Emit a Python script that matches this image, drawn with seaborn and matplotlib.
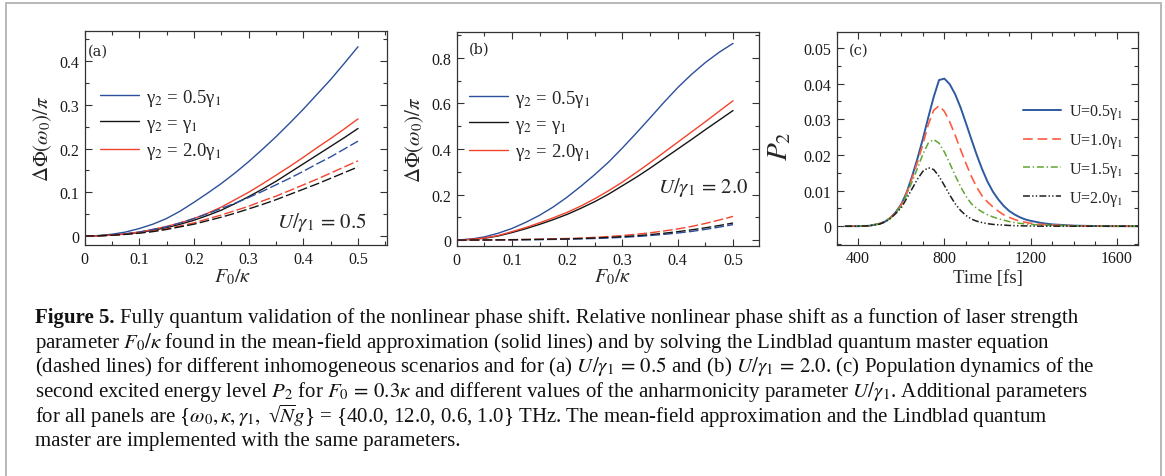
import numpy as np
import pandas as pd
import matplotlib
matplotlib.use("Agg")
import matplotlib.pyplot as plt
import seaborn as sns
from matplotlib.lines import Line2D
from matplotlib.ticker import MultipleLocator, FuncFormatter

# ---------------- data ----------------
F = [0.0, 0.025, 0.05, 0.075, 0.1, 0.125, 0.15, 0.175, 0.2, 0.225, 0.25,
     0.275, 0.3, 0.325, 0.35, 0.375, 0.4, 0.425, 0.45, 0.475, 0.5]

# panel (a)  U/gamma1 = 0.5
a_blue_mf = [0, .001, .004, .009, .017, .027, .040, .057, .077, .098, .120,
             .144, .170, .198, .227, .258, .290, .324, .358, .395, .433]
a_black_mf = [0, .0005, .002, .0045, .008, .013, .019, .027, .036, .047, .059,
              .074, .090, .107, .125, .145, .165, .185, .205, .225, .246]
a_red_mf = [0, .0005, .002, .005, .009, .015, .022, .030, .040, .052, .066,
            .083, .100, .119, .139, .159, .180, .202, .223, .245, .268]
a_blue_me = [0, .0005, .002, .005, .009, .015, .021, .030, .040, .051, .063,
             .075, .088, .102, .117, .132, .148, .165, .181, .199, .217]
a_red_me = [0, .0005, .002, .004, .007, .011, .016, .023, .030, .039, .048,
            .058, .068, .080, .091, .104, .117, .130, .144, .158, .172]
a_black_me = [0, .0004, .0017, .0037, .0065, .010, .015, .021, .027, .035, .043,
              .052, .062, .072, .083, .095, .107, .119, .132, .145, .158]

# panel (b)  U/gamma1 = 2.0
b_blue_mf = [0, .004, .014, .030, .051, .078, .109, .146, .189, .237, .288,
             .343, .405, .470, .537, .605, .670, .728, .780, .825, .864]
b_black_mf = [0, .003, .008, .018, .033, .050, .069, .090, .113, .140, .169,
              .202, .239, .276, .316, .358, .400, .442, .485, .527, .569]
b_red_mf = [0, .003, .009, .020, .037, .055, .076, .098, .122, .150, .182,
            .217, .255, .297, .340, .385, .430, .475, .520, .566, .612]
b_blue_me = [0, .0001, .0003, .0006, .001, .0015, .002, .003, .004, .0055, .007,
             .0093, .012, .0155, .020, .025, .031, .038, .047, .057, .068]
b_red_me = [0, .0002, .0005, .001, .002, .003, .004, .0055, .007, .009, .012,
            .0155, .020, .0255, .032, .040, .049, .060, .073, .088, .104]
b_black_me = [0, .0002, .0004, .0008, .0015, .0022, .003, .004, .005, .0068, .009,
              .0118, .015, .019, .024, .030, .037, .045, .054, .064, .075]

# panel (c)  P2 vs time
T = [340, 400, 450, 500, 525, 550, 575, 600, 625, 650, 675, 700, 725, 750, 775,
     800, 825, 850, 875, 900, 925, 950, 975, 1000, 1025, 1050, 1075, 1100, 1125,
     1150, 1175, 1200, 1250, 1300, 1400, 1500, 1600, 1700]
c_U05 = [0, 0, .0001, .0007, .0013, .0024, .0040, .0062, .0095, .0140, .0190, .0245,
         .0305, .0362, .0410, .0414, .0398, .0370, .0333, .0289, .0244, .0200, .0160,
         .0125, .0097, .0075, .0057, .0043, .0033, .0025, .0019, .0015,
         .0009, .0005, .00015, .00004, 0, 0]
c_U10 = [0, 0, .0001, .0007, .0013, .0024, .0040, .0060, .0093, .0135, .0180, .0230,
         .0285, .0325, .0338, .0322, .0292, .0255, .0215, .0176, .0140, .0109, .0085,
         .0068, .0054, .0042, .0032, .0025, .0019, .0014, .0011, .0008,
         .0005, .0003, .0001, 0, 0, 0]
c_U15 = [0, 0, .0001, .0007, .0013, .0023, .0039, .0057, .0088, .0125, .0163, .0202,
         .0233, .0243, .0233, .0208, .0176, .0142, .0111, .0084, .0063, .0050, .0040,
         .0032, .0026, .0021, .0017, .0013, .0010, .0008, .0006, .0005,
         .0003, .0002, .0001, 0, 0, 0]
c_U20 = [0, 0, .0001, .0006, .0012, .0022, .0036, .0052, .0078, .0105, .0132, .0154,
         .0164, .0159, .0140, .0114, .0087, .0063, .0044, .0030, .0020, .0014, .0010,
         .0007, .0005, .0004, .0003, .0002, .00015, .0001, .00007, .00005,
         0, 0, 0, 0, 0, 0]

gamma_labels = ["γ$_2$ = 0.5γ$_1$", "γ$_2$ = γ$_1$", "γ$_2$ = 2.0γ$_1$"]
U_labels = ["U=0.5γ$_1$", "U=1.0γ$_1$", "U=1.5γ$_1$", "U=2.0γ$_1$"]

caption_lines = [
    "Fully quantum validation of the nonlinear phase shift. Relative nonlinear phase shift as a function of laser strength",
    r"parameter $F_0/\kappa$ found in the mean-field approximation (solid lines) and by solving the Lindblad quantum master equation",
    r"(dashed lines) for different inhomogeneous scenarios and for (a) $U/\gamma_1\,=\,0.5$ and (b) $U/\gamma_1\,=\,2.0$. (c) Population dynamics of the",
    r"second excited energy level $P_2$ for $F_0\,=\,0.3\kappa$ and different values of the anharmonicity parameter $U/\gamma_1$. Additional parameters",
    r"for all panels are {$\omega_0, \kappa, \gamma_1,$ √$\overline{N}g$} = {40.0, 12.0, 0.6, 1.0} THz. The mean-field approximation and the Lindblad quantum",
    "master are implemented with the same parameters.",
]

# ---------------- style ----------------
sns.set_theme(style="ticks")
plt.rcParams["font.family"] = ["Liberation Serif", "DejaVu Serif"]
plt.rcParams["mathtext.fontset"] = "stix"
plt.rcParams["lines.scale_dashes"] = False
plt.rcParams["axes.edgecolor"] = "#333333"
plt.rcParams["axes.linewidth"] = 0.9
plt.rcParams["xtick.color"] = "#333333"
plt.rcParams["ytick.color"] = "#333333"
plt.rcParams["xtick.labelcolor"] = "#1a1a1a"
plt.rcParams["ytick.labelcolor"] = "#1a1a1a"

BLUE = "#2c4f9c"
RED = "#f2432c"
BLACK = "#151515"

fig = plt.figure(figsize=(11.65, 4.77), dpi=100)
W, H = 1165, 477

def axes_px(l, r, t, b):
    return fig.add_axes([l / W, (H - b) / H, (r - l) / W, (b - t) / H])

axA = axes_px(84.5, 387, 32, 246)
axB = axes_px(456.7, 759, 33, 247)
axC = axes_px(836.7, 1138.3, 33.3, 245.7)

def line(ax, x, y, color, ls="-", lw=1.0, label=None):
    d = pd.DataFrame({"x": x, "y": y})
    sns.lineplot(data=d, x="x", y="y", ax=ax, color=color, linewidth=lw,
                 linestyle=ls, estimator=None, sort=False, label=label, legend=False)

DASH = (0, (7, 2.3))

for ax, mf, me in [(axA, [a_blue_mf, a_black_mf, a_red_mf], [a_blue_me, a_red_me, a_black_me]),
                   (axB, [b_blue_mf, b_black_mf, b_red_mf], [b_blue_me, b_red_me, b_black_me])]:
    for y, c in zip(mf, [BLUE, BLACK, RED]):
        line(ax, F, y, c, "-", 1.0)
    for y, c in zip(me, [BLUE, RED, BLACK]):
        line(ax, F, y, c, DASH, 1.0)

# panel c
c_styles = [("#2e5a9f", "-", 1.4), ("#ff5c42", (0, (7, 3.5)), 1.2),
            ("#5ea531", (0, (5, 2, 1, 2)), 1.1), ("#1e1e1e", (0, (5, 1.6, 1, 1.6, 1, 1.6)), 1.1)]
for y, (c, ls, lw) in zip([c_U05, c_U10, c_U15, c_U20], c_styles):
    line(axC, T, y, c, ls, lw)

fmt = FuncFormatter(lambda v, p: "0" if abs(v) < 1e-12 else ("%g" % round(v, 4)))

def style_axis(ax, xlim, ylim, xmaj, xmin, ymaj, ymin):
    ax.set_xlim(*xlim)
    ax.set_ylim(*ylim)
    ax.xaxis.set_major_locator(MultipleLocator(xmaj))
    ax.xaxis.set_minor_locator(MultipleLocator(xmin))
    ax.yaxis.set_major_locator(MultipleLocator(ymaj))
    ax.yaxis.set_minor_locator(MultipleLocator(ymin))
    ax.xaxis.set_major_formatter(fmt)
    ax.yaxis.set_major_formatter(fmt)
    ax.tick_params(which="both", direction="in", top=True, right=True, width=0.8)
    ax.tick_params(which="major", length=5, labelsize=11.5, pad=4)
    ax.tick_params(which="minor", length=2.8)
    for s in ax.spines.values():
        s.set_visible(True)

style_axis(axA, (0, 0.553), (-0.0206, 0.469), 0.1, 0.05, 0.1, 0.05)
style_axis(axB, (0, 0.547), (-0.026, 0.914), 0.1, 0.05, 0.2, 0.1)
style_axis(axC, (300, 1700), (-0.0052, 0.0544), 400, 100, 0.01, 0.005)

for ax, xl, yl, xc, yc in [
        (axA, r"$F_0/\kappa$", r"$\Delta\Phi(\omega_0)/\pi$", (0.49, -0.145), (-0.137, 0.5)),
        (axB, r"$F_0/\kappa$", r"$\Delta\Phi(\omega_0)/\pi$", (0.516, -0.14), (-0.138, 0.5))]:
    ax.set_xlabel(xl, fontsize=14.5)
    ax.set_ylabel(yl, fontsize=15)
    ax.xaxis.set_label_coords(*xc)
    ax.yaxis.set_label_coords(*yc)
    ax.xaxis.label.set_va("center")
    ax.yaxis.label.set_va("center")

axC.set_xlabel("Time [fs]", fontsize=13.5)
axC.set_ylabel(r"$P_2$", fontsize=21)
axC.xaxis.set_label_coords(0.50, -0.155)
axC.yaxis.set_label_coords(-0.188, 0.47)
axC.xaxis.label.set_va("center")
axC.yaxis.label.set_va("center")

# panel tags
axA.text(0.012, 0.907, "(a)", transform=axA.transAxes, fontsize=10.5, va="center",
         fontfamily="DejaVu Serif")
axB.text(0.04, 0.92, "(b)", transform=axB.transAxes, fontsize=10.5, va="center",
         fontfamily="DejaVu Serif")
axC.text(0.04, 0.92, "(c)", transform=axC.transAxes, fontsize=10.5, va="center",
         fontfamily="DejaVu Serif")

axA.text(0.934, 0.109, r"$U/\gamma_1\,=\,0.5$", transform=axA.transAxes, fontsize=15,
         ha="right", va="center")
axB.text(0.964, 0.276, r"$U/\gamma_1\,=\,2.0$", transform=axB.transAxes, fontsize=15,
         ha="right", va="center")

# legends
for ax, x0 in [(axA, 0.051), (axB, 0.041)]:
    handles = [Line2D([], [], color=c, lw=1.0) for c in [BLUE, BLACK, RED]]
    ax.legend(handles, gamma_labels, loc="center left", bbox_to_anchor=(x0, 0.565),
              frameon=False, fontsize=13.5, handlelength=2.1, handletextpad=0.35,
              labelspacing=0.35, borderpad=0, borderaxespad=0)

hC = [Line2D([], [], color=c, lw=lw, linestyle=ls) for c, ls, lw in c_styles]
axC.legend(hC, U_labels, loc="center left", bbox_to_anchor=(0.617, 0.422), frameon=False,
           fontsize=11.5, handlelength=2.4, handletextpad=0.5, labelspacing=0.62,
           borderpad=0, borderaxespad=0)

# grey page frame
fr = dict(color="#b8b8b8", lw=1.4, transform=fig.transFigure)
fig.add_artist(Line2D([6 / W, 6 / W], [0, (H - 4) / H], **fr))
fig.add_artist(Line2D([6 / W, 1160.5 / W], [(H - 4) / H, (H - 4) / H], **fr))
fig.add_artist(Line2D([1160.5 / W, 1160.5 / W], [0, (H - 4) / H], **fr))

# caption
cap_fs = 15.0
y0 = 318
dy = 24.7
t0 = fig.text(35 / W, (H - y0) / H, "Figure 5.", fontsize=cap_fs, fontweight="bold",
              va="center", ha="left", color="#111111")
fig.canvas.draw()
bb = t0.get_window_extent(renderer=fig.canvas.get_renderer())
fig.text((bb.x1 + 5) / W, (H - y0) / H, caption_lines[0], fontsize=cap_fs,
         va="center", ha="left", color="#111111")
for i, s in enumerate(caption_lines[1:], start=1):
    fig.text(35 / W, (H - (y0 + i * dy)) / H, s, fontsize=cap_fs, va="center",
             ha="left", color="#111111")

fig.savefig("out.png", dpi=100)
